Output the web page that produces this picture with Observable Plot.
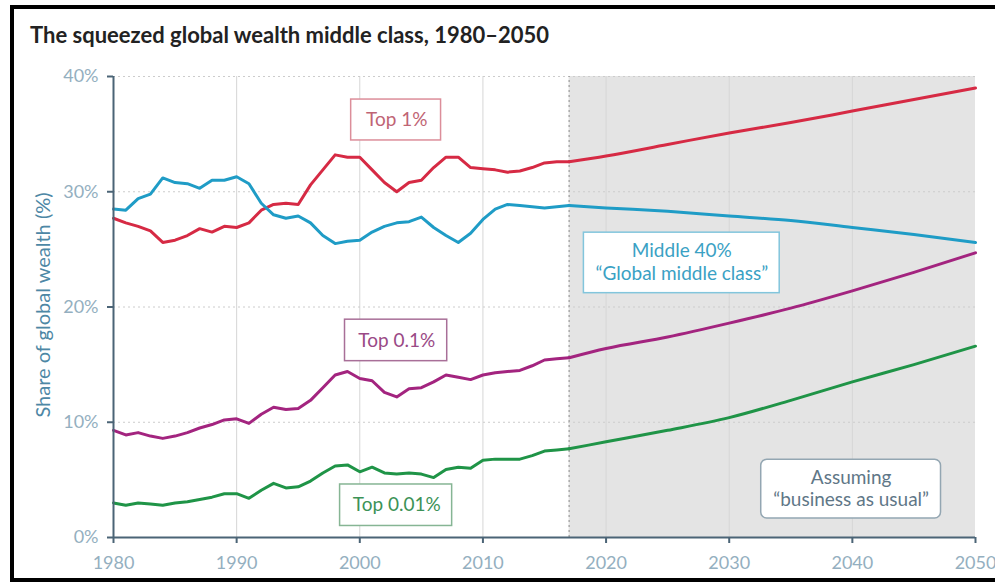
<!DOCTYPE html>
<html>
<head>
<meta charset="utf-8">
<script src="https://cdn.jsdelivr.net/npm/d3@7"></script>
<script src="https://cdn.jsdelivr.net/npm/@observablehq/plot@0.6"></script>
<style>
  html, body { margin: 0; padding: 0; background: #fff; }
  #wrap { position: relative; width: 995px; height: 583px; overflow: hidden; font-family: Lato, "Open Sans", sans-serif; }
  #frame { position: absolute; left: 10px; top: 5px; width: 1000px; height: 577px; box-sizing: border-box; border: 4px solid #000; }
  #title { position: absolute; left: 30px; top: 21px; font-size: 22px; font-weight: bold; color: #222; }
  #chart { position: absolute; left: 0; top: 0; }
</style>
</head>
<body>
<div id="wrap">
  <div id="frame"></div>
  <div id="chart"></div>
  <div id="title">The squeezed global wealth middle class, 1980–2050</div>
</div>
<script>
// ---- data ----
const histYears = [1980,1981,1982,1983,1984,1985,1986,1987,1988,1989,
                   1990,1991,1992,1993,1994,1995,1996,1997,1998,1999,
                   2000,2001,2002,2003,2004,2005,2006,2007,2008,2009,
                   2010,2011,2012,2013,2014,2015,2016,2017];
const projYears = [2017,2020,2025,2030,2035,2040,2045,2050];

const top1Hist = [27.7,27.3,27.0,26.6,25.6,25.8,26.2,26.8,26.5,27.0,
                  26.9,27.3,28.4,28.9,29.0,28.9,30.6,31.9,33.2,33.0,
                  33.0,31.9,30.8,30.0,30.8,31.0,32.1,33.0,33.0,32.1,
                  32.0,31.9,31.7,31.8,32.1,32.5,32.6,32.6];
const top1Proj = [32.6,33.1,34.1,35.1,36.0,37.0,38.0,39.0];

const mid40Hist = [28.5,28.4,29.4,29.8,31.2,30.8,30.7,30.3,31.0,31.0,
                   31.3,30.7,29.0,28.0,27.7,27.9,27.3,26.2,25.5,25.7,
                   25.8,26.5,27.0,27.3,27.4,27.8,26.9,26.2,25.6,26.4,
                   27.6,28.5,28.9,28.8,28.7,28.6,28.7,28.8];
const mid40Proj = [28.8,28.6,28.3,27.9,27.5,26.9,26.3,25.6];

const top01Hist = [9.3,8.9,9.1,8.8,8.6,8.8,9.1,9.5,9.8,10.2,
                   10.3,9.9,10.7,11.3,11.1,11.2,11.9,13.0,14.1,14.4,
                   13.8,13.6,12.6,12.2,12.9,13.0,13.5,14.1,13.9,13.7,
                   14.1,14.3,14.4,14.5,14.9,15.4,15.5,15.6];
const top01Proj = [15.6,16.4,17.4,18.6,19.9,21.4,23.0,24.7];

const top001Hist = [3.0,2.8,3.0,2.9,2.8,3.0,3.1,3.3,3.5,3.8,
                    3.8,3.4,4.1,4.7,4.3,4.4,4.9,5.6,6.2,6.3,
                    5.7,6.1,5.6,5.5,5.6,5.5,5.2,5.9,6.1,6.0,
                    6.7,6.8,6.8,6.8,7.1,7.5,7.6,7.7];
const top001Proj = [7.7,8.3,9.3,10.4,11.9,13.5,15.0,16.6];

const xTicks = [1980,1990,2000,2010,2020,2030,2040,2050];
const yTicks = [0,10,20,30,40];
const projStart = 2017;

const seriesNames = ["Top 1%", "Middle 40%", "Top 0.1%", "Top 0.01%"];
const seriesColors = ["#d62a44", "#1f9cc6", "#a3247f", "#1f9447"];

// ---- build tables ----
function rows(name, years, vals) { return years.map((y, i) => ({series: name, year: y, value: vals[i]})); }
const hist = [
  ...rows(seriesNames[0], histYears, top1Hist),
  ...rows(seriesNames[1], histYears, mid40Hist),
  ...rows(seriesNames[2], histYears, top01Hist),
  ...rows(seriesNames[3], histYears, top001Hist)
];
const proj = [
  ...rows(seriesNames[0], projYears, top1Proj),
  ...rows(seriesNames[1], projYears, mid40Proj),
  ...rows(seriesNames[2], projYears, top01Proj),
  ...rows(seriesNames[3], projYears, top001Proj)
];

const boxes = [
  {x1: 1999.3, x2: 2006.6, y1: 34.45, y2: 38.0, stroke: "#dc8e9a"},
  {x1: 1998.8, x2: 2007.1, y1: 15.3, y2: 18.9, stroke: "#a86f98"},
  {x1: 1998.4, x2: 2007.5, y1: 1.0, y2: 4.6, stroke: "#86b594"},
  {x1: 2018.2, x2: 2034.1, y1: 21.2, y2: 26.45, stroke: "#82c5dc"}
];
const noteBox = [{x1: 2032.6, x2: 2047.2, y1: 1.65, y2: 6.75, stroke: "#93a6b2"}];
const labels = [
  {x: 2003.0, y: 36.2, text: "Top 1%", color: "#bf6474"},
  {x: 2003.0, y: 17.1, text: "Top 0.1%", color: "#9a4a86"},
  {x: 2003.0, y: 2.8, text: "Top 0.01%", color: "#3c9257"},
  {x: 2026.15, y: 24.85, text: "Middle 40%", color: "#3aa1c4"},
  {x: 2026.15, y: 22.85, text: "\u201cGlobal middle class\u201d", color: "#3aa1c4"},
  {x: 2039.9, y: 5.15, text: "Assuming", color: "#5f7787"},
  {x: 2039.9, y: 3.25, text: "\u201cbusiness as usual\u201d", color: "#5f7787"}
];

const axisColor = "#4b6476";

const chart = Plot.plot({
  width: 995,
  height: 583,
  marginLeft: 113,
  marginRight: 20,
  marginTop: 76,
  marginBottom: 46,
  style: {fontFamily: "Lato, 'Open Sans', sans-serif", fontSize: "18px", background: "transparent"},
  x: {domain: [1980, 2050]},
  y: {domain: [0, 40]},
  color: {domain: seriesNames, range: seriesColors},
  marks: [
    Plot.rect([0], {x1: projStart, x2: 2050, y1: 0, y2: 40, fill: "#e4e4e4"}),
    Plot.ruleX(xTicks.slice(1, -1), {y1: 0, y2: 40, stroke: "#d6d6d6", strokeWidth: 1}),
    Plot.ruleY(yTicks.slice(1), {x1: 1980, x2: 2050, stroke: "#cccccc", strokeDasharray: "2,3", strokeWidth: 1}),
    Plot.ruleX([projStart], {y1: 0, y2: 40, stroke: "#9a9a9a", strokeDasharray: "2,3", strokeWidth: 1.2}),
    Plot.line(hist, {x: "year", y: "value", z: "series", stroke: "series", strokeWidth: 3, strokeLinejoin: "round"}),
    Plot.line(proj, {x: "year", y: "value", z: "series", stroke: "series", strokeWidth: 3, curve: "monotone-x"}),
    Plot.rect(boxes, {x1: "x1", x2: "x2", y1: "y1", y2: "y2", fill: "white", stroke: d => d.stroke, strokeWidth: 1.5}),
    Plot.rect(noteBox, {x1: "x1", x2: "x2", y1: "y1", y2: "y2", fill: "white", stroke: d => d.stroke, strokeWidth: 1.5, rx: 6}),
    Plot.text(labels, {x: "x", y: "y", text: "text", fill: d => d.color, fontSize: 19}),
    Plot.ruleX([1980], {y1: 0, y2: 40, stroke: axisColor, strokeWidth: 2}),
    Plot.ruleY([0], {x1: 1980, x2: 2050, stroke: axisColor, strokeWidth: 2}),
    Plot.axisY({ticks: yTicks, tickFormat: d => d + "%", tickSize: 6, tickPadding: 9, stroke: axisColor, strokeWidth: 2, color: "#94afc0", fontSize: 18, label: null}),
    Plot.axisX({ticks: xTicks, tickFormat: d => String(d), tickSize: 6, tickPadding: 13, stroke: axisColor, strokeWidth: 2, color: "#94afc0", fontSize: 18, label: null}),
    Plot.text(["Share of global wealth (%)"], {frameAnchor: "left", textAnchor: "middle", rotate: -90, dx: -70, dy: -2, fill: "#4d87a5", fontSize: 20})
  ]
});
document.getElementById("chart").appendChild(chart);
</script>
</body>
</html>
